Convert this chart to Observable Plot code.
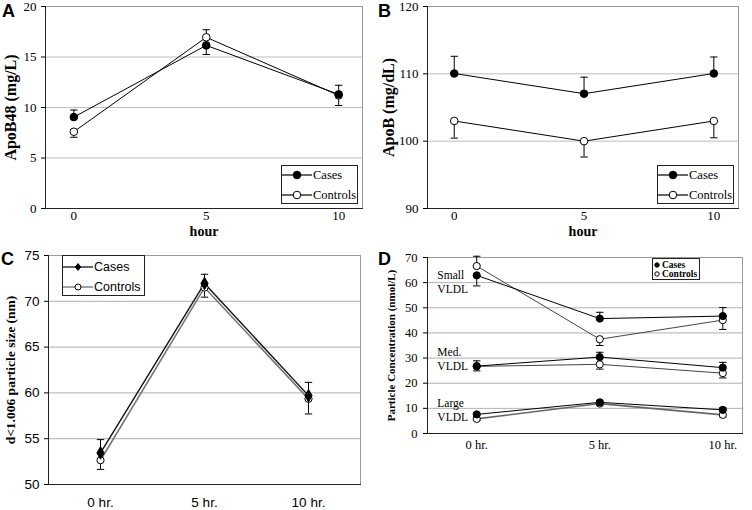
<!DOCTYPE html>
<html>
<head>
<meta charset="utf-8">
<script src="https://cdn.jsdelivr.net/npm/d3@7"></script>
<script src="https://cdn.jsdelivr.net/npm/@observablehq/plot@0.6"></script>
<style>
  html, body { margin: 0; padding: 0; background: #fff; }
  #wrap { position: relative; width: 752px; height: 510px; overflow: hidden; background: #fff; }
  .panel { position: absolute; }
  .panel svg { background: transparent; overflow: visible; }
  .letter { position: absolute; font-family: "Liberation Sans", Arial, sans-serif; font-weight: bold; font-size: 18px; line-height: 1; }
  .leg { position: absolute; border: 1px solid #222; background: #fff; box-sizing: border-box; }
  .leg .row { position: absolute; left: 0; display: flex; align-items: center; white-space: nowrap; }
  .leg svg { display: block; }
</style>
</head>
<body>
<div id="wrap"></div>
<script>
// ---------------- DATA ----------------
const seriesNames = ["Cases", "Controls"];

// Panel A: ApoB48 (mg/L)
const hoursAB = [0, 5, 10];
const apoB48Ticks = [0, 5, 10, 15, 20];
const apoB48Cases = [9.05, 16.15, 11.3];
const apoB48CasesHi = [9.75, null, 12.2];
const apoB48CasesLo = [null, 15.25, null];
const apoB48Controls = [7.6, 16.95, 11.2];
const apoB48ControlsHi = [null, 17.7, null];
const apoB48ControlsLo = [7.05, null, 10.2];

// Panel B: ApoB (mg/dL)
const apoBTicks = [90, 100, 110, 120];
const apoBCases = [110.05, 107.05, 110.05];
const apoBCasesHi = [112.6, 109.5, 112.5];
const apoBCasesLo = [null, null, null];
const apoBControls = [103.0, 100.0, 103.0];
const apoBControlsHi = [null, null, null];
const apoBControlsLo = [100.45, 97.65, 100.5];

// Panel C: d<1.006 particle size (nm)
const hourLabelsC = ["0 hr.", "5 hr.", "10 hr."];
const sizeTicks = [50, 55, 60, 65, 70, 75];
const sizeCases = [53.45, 71.95, 59.7];
const sizeCasesHi = [54.9, 72.95, 61.15];
const sizeControls = [52.65, 71.5, 59.35];
const sizeControlsLo = [51.65, 70.45, 57.7];

// Panel D: Particle concentration (nmol/L)
const hoursD = [0, 5, 10];
const concTicks = [0, 10, 20, 30, 40, 50, 60, 70];
const vldlGroups = ["Small", "Med.", "Large"];
const vldlLabelAt = [60.4, 29.8, 9.6];
const smallCases = [62.9, 45.7, 46.7];
const smallCasesHi = [null, 48.2, 50.1];
const smallCasesLo = [58.7, null, null];
const smallControls = [66.6, 37.5, 45.1];
const smallControlsHi = [70.5, null, null];
const smallControlsLo = [null, 35.0, 41.4];
const medCases = [26.8, 30.4, 26.2];
const medCasesHi = [28.9, 32.3, 28.3];
const medCasesLo = [null, null, null];
const medControls = [26.7, 27.5, 24.0];
const medControlsHi = [null, null, null];
const medControlsLo = [24.9, 25.6, 22.1];
const largeCases = [7.6, 12.4, 9.4];
const largeCasesHi = [null, 13.2, 10.2];
const largeCasesLo = [null, null, null];
const largeControls = [5.8, 11.9, 7.4];
const largeControlsHi = [null, null, null];
const largeControlsLo = [5.2, 11.2, 6.6];

// ---------------- HELPERS ----------------
const SERIF = '"Liberation Serif", "Times New Roman", serif';
const SANS = '"Liberation Sans", Arial, sans-serif';

function rows(xs, vals, series, group) {
  return vals.map((v, i) => ({x: xs[i], value: v, series, group: group || series}));
}
function errRows(xs, vals, ends, series, group) {
  const out = [];
  ends.forEach((e, i) => { if (e != null) out.push({x: xs[i], value: vals[i], end: e, series, group: group || series}); });
  return out;
}
const capSymbol = {
  draw(context, size) {
    const w = Math.sqrt(size / Math.PI);
    context.moveTo(-w, 0);
    context.lineTo(w, 0);
  }
};

const wrap = document.getElementById("wrap");
function place(node, left, top) {
  const d = document.createElement("div");
  d.className = "panel";
  d.style.left = left + "px";
  d.style.top = top + "px";
  d.appendChild(node);
  wrap.appendChild(d);
}
function letter(t, left, top) {
  const d = document.createElement("div");
  d.className = "letter";
  d.textContent = t;
  d.style.left = left + "px";
  d.style.top = top + "px";
  wrap.appendChild(d);
}
function legend({left, top, width, height, rowTops, font, fontSize, fontWeight, sampleW, markers, lineColors, textLeft}) {
  const box = document.createElement("div");
  box.className = "leg";
  Object.assign(box.style, {left: left + "px", top: top + "px", width: width + "px", height: height + "px"});
  seriesNames.forEach((name, i) => {
    const row = document.createElement("div");
    row.className = "row";
    row.style.top = rowTops[i] + "px";
    row.style.height = "12px";
    row.style.fontFamily = font;
    row.style.fontSize = fontSize + "px";
    row.style.fontWeight = fontWeight;
    const ns = "http://www.w3.org/2000/svg";
    const svg = document.createElementNS(ns, "svg");
    svg.setAttribute("width", sampleW);
    svg.setAttribute("height", 12);
    if (lineColors) {
      const ln = document.createElementNS(ns, "line");
      ln.setAttribute("x1", 0); ln.setAttribute("x2", sampleW);
      ln.setAttribute("y1", 6); ln.setAttribute("y2", 6);
      ln.setAttribute("stroke", lineColors[i]);
      ln.setAttribute("stroke-width", 1.2);
      svg.appendChild(ln);
    }
    const m = markers[i];
    let sh;
    if (m.shape === "diamond") {
      sh = document.createElementNS(ns, "path");
      const r = m.r, cx = sampleW / 2;
      sh.setAttribute("d", `M${cx},${6 - r}L${cx + r * 0.8},6L${cx},${6 + r}L${cx - r * 0.8},6Z`);
    } else {
      sh = document.createElementNS(ns, "circle");
      sh.setAttribute("cx", sampleW / 2); sh.setAttribute("cy", 6); sh.setAttribute("r", m.r);
    }
    sh.setAttribute("fill", m.fill);
    sh.setAttribute("stroke", "#000");
    sh.setAttribute("stroke-width", 1);
    svg.appendChild(sh);
    row.appendChild(svg);
    const sp = document.createElement("span");
    sp.textContent = name;
    sp.style.marginLeft = textLeft + "px";
    row.appendChild(sp);
    box.appendChild(row);
  });
  wrap.appendChild(box);
}

function seriesMarks(xs, cases, casesHi, casesLo, controls, controlsHi, controlsLo, opts) {
  const group = opts.group || "";
  const c = rows(xs, cases, "Cases", group + "Cases");
  const k = rows(xs, controls, "Controls", group + "Controls");
  const errs = [
    ...errRows(xs, cases, casesHi, "Cases", group), ...errRows(xs, cases, casesLo, "Cases", group),
    ...errRows(xs, controls, controlsHi, "Controls", group), ...errRows(xs, controls, controlsLo, "Controls", group)
  ];
  return [
    Plot.ruleX(errs, {x: "x", y1: "value", y2: "end", stroke: "#000", strokeWidth: 1}),
    Plot.dot(errs, {x: "x", y: "end", symbol: capSymbol, r: opts.capR || 3.7, stroke: "#000", strokeWidth: 1}),
    Plot.line(k, {x: "x", y: "value", stroke: opts.controlsStroke || "#000", strokeWidth: opts.controlsWidth || 1}),
    Plot.line(c, {x: "x", y: "value", stroke: opts.casesStroke || "#000", strokeWidth: opts.casesWidth || 1}),
    Plot.dot(k, {x: "x", y: "value", r: opts.r || 3.8, fill: "#fff", stroke: "#000", strokeWidth: 1}),
    Plot.dot(c, {x: "x", y: "value", r: opts.casesR || opts.r || 3.8, symbol: opts.casesSymbol || "circle", fill: "#000", stroke: "#000", strokeWidth: 1})
  ];
}

function frameMarks(grid, gridColor) {
  return [
    Plot.ruleY(grid, {stroke: gridColor || "#bdbdbd", strokeWidth: 1}),
    Plot.frame({stroke: "#9a9a9a"}),
    Plot.frame({anchor: "left", stroke: "#222"}),
    Plot.frame({anchor: "bottom", stroke: "#222"})
  ];
}
function yTitle(t, dx, size, extra) {
  return Plot.text([t], Object.assign({text: d => d, frameAnchor: "left", textAnchor: "middle", lineAnchor: "middle",
    rotate: -90, dx, fontWeight: "bold", fontSize: size}, extra || {}));
}

// ---------------- PANEL A ----------------
const plotA = Plot.plot({
  width: 376, height: 245,
  marginLeft: 45, marginRight: 14, marginTop: 6, marginBottom: 37,
  style: {fontFamily: SERIF, fontSize: "13px", color: "#000", background: "transparent", overflow: "visible"},
  x: {type: "linear", domain: [-1.07, 10.9], ticks: hoursAB, tickSize: 0, tickPadding: 2, label: null, tickFormat: d => String(d)},
  y: {domain: [0, 20], ticks: apoB48Ticks, tickSize: 4, tickPadding: 5, label: null, tickFormat: d => String(d)},
  marks: [
    ...frameMarks(apoB48Ticks.slice(1, -1)),
    ...seriesMarks(hoursAB, apoB48Cases, apoB48CasesHi, apoB48CasesLo, apoB48Controls, apoB48ControlsHi, apoB48ControlsLo, {}),
    yTitle("ApoB48 (mg/L)", -35, 16),
    Plot.text(["hour"], {text: d => d, frameAnchor: "bottom", lineAnchor: "middle", dy: 23, fontWeight: "bold", fontSize: 14})
  ]
});
place(plotA, 0, 0);
letter("A", 2, 2);
legend({left: 281, top: 165, width: 77, height: 39, rowTops: [3, 23], font: SERIF, fontSize: 12.5, fontWeight: "normal",
  sampleW: 30, markers: [{r: 3.8, fill: "#000"}, {r: 3.8, fill: "#fff"}], lineColors: ["#000", "#000"], textLeft: 1});

// ---------------- PANEL B ----------------
const plotB = Plot.plot({
  width: 376, height: 245,
  marginLeft: 51, marginRight: 14, marginTop: 6, marginBottom: 37,
  style: {fontFamily: SERIF, fontSize: "13px", color: "#000", background: "transparent", overflow: "visible"},
  x: {type: "linear", domain: [-1.03, 10.95], ticks: hoursAB, tickSize: 0, tickPadding: 2, label: null, tickFormat: d => String(d)},
  y: {domain: [90, 120], ticks: apoBTicks, tickSize: 4, tickPadding: 5, label: null, tickFormat: d => String(d)},
  marks: [
    ...frameMarks(apoBTicks.slice(1, -1)),
    ...seriesMarks(hoursAB, apoBCases, apoBCasesHi, apoBCasesLo, apoBControls, apoBControlsHi, apoBControlsLo, {}),
    yTitle("ApoB (mg/dL)", -39, 16, {letterSpacing: "0.4px"}),
    Plot.text(["hour"], {text: d => d, frameAnchor: "bottom", lineAnchor: "middle", dy: 23, fontWeight: "bold", fontSize: 14})
  ]
});
place(plotB, 376, 0);
letter("B", 378, 2);
legend({left: 657, top: 165, width: 77, height: 39, rowTops: [3, 23], font: SERIF, fontSize: 12.5, fontWeight: "normal",
  sampleW: 30, markers: [{r: 3.8, fill: "#000"}, {r: 3.8, fill: "#fff"}], lineColors: ["#000", "#000"], textLeft: 1});

// ---------------- PANEL C ----------------
const plotC = Plot.plot({
  width: 376, height: 265,
  marginLeft: 48, marginRight: 16, marginTop: 10, marginBottom: 26,
  style: {fontFamily: SANS, fontSize: "13.5px", color: "#000", background: "transparent", overflow: "visible"},
  x: {type: "point", domain: hourLabelsC, padding: 0.5, tickSize: 0, tickPadding: 13, label: null},
  y: {domain: [50, 75], ticks: sizeTicks, tickSize: 4, tickPadding: 5, label: null, tickFormat: d => String(d)},
  marks: [
    ...frameMarks(sizeTicks.slice(1, -1), "#b0b0b0"),
    ...seriesMarks(hourLabelsC, sizeCases, sizeCasesHi, [null, null, null], sizeControls, [null, null, null], sizeControlsLo,
      {casesStroke: "#111", casesWidth: 1.4, controlsStroke: "#777", controlsWidth: 1.6, r: 3.6, casesSymbol: "diamond", casesR: 3.8}),
    yTitle("d<1.006 particle size (nm)", -38, 13.5, {fontFamily: SERIF, letterSpacing: "0.4px"})
  ]
});
place(plotC, 0, 245);
letter("C", 1, 250);
legend({left: 62, top: 255, width: 83, height: 41, rowTops: [5, 25], font: SANS, fontSize: 12.5, fontWeight: "normal",
  sampleW: 30, markers: [{shape: "diamond", r: 3.4, fill: "#000"}, {r: 3, fill: "#fff"}], lineColors: ["#000", "#666"], textLeft: 1});

// ---------------- PANEL D ----------------
const plotD = Plot.plot({
  width: 376, height: 265,
  marginLeft: 51, marginRight: 10, marginTop: 12, marginBottom: 77,
  style: {fontFamily: SERIF, fontSize: "12.5px", color: "#000", background: "transparent", overflow: "visible"},
  x: {type: "linear", domain: [-2.0, 10.8], ticks: hoursD, tickSize: 0, tickPadding: 7, label: null, tickFormat: d => d + " hr."},
  y: {domain: [0, 70], ticks: concTicks, tickSize: 4, tickPadding: 6, label: null, tickFormat: d => String(d)},
  marks: [
    ...frameMarks(concTicks.slice(1, -1), "#b0b0b0"),
    ...seriesMarks(hoursD, smallCases, smallCasesHi, smallCasesLo, smallControls, smallControlsHi, smallControlsLo,
      {group: "small", controlsStroke: "#444", r: 3.6}),
    ...seriesMarks(hoursD, medCases, medCasesHi, medCasesLo, medControls, medControlsHi, medControlsLo,
      {group: "med", controlsStroke: "#444", r: 3.6}),
    ...seriesMarks(hoursD, largeCases, largeCasesHi, largeCasesLo, largeControls, largeControlsHi, largeControlsLo,
      {group: "large", controlsStroke: "#666", controlsWidth: 1.6, r: 3.6}),
    yTitle("Particle Concentration (nmol/L)", -36, 11),
    Plot.text(vldlGroups.map((g, i) => ({g, v: vldlLabelAt[i]})),
      {text: d => d.g + "\nVLDL", x: () => -1.6, y: "v", textAnchor: "start", lineAnchor: "middle", lineHeight: 1.22, fontSize: 11.5})
  ]
});
place(plotD, 376, 245);
letter("D", 378, 250);
legend({left: 652, top: 258, width: 48, height: 22, rowTops: [0, 8.5], font: SERIF, fontSize: 9.5, fontWeight: "bold",
  sampleW: 8, markers: [{r: 2.2, fill: "#000"}, {r: 2.2, fill: "#fff"}], lineColors: null, textLeft: 1});
</script>
</body>
</html>
